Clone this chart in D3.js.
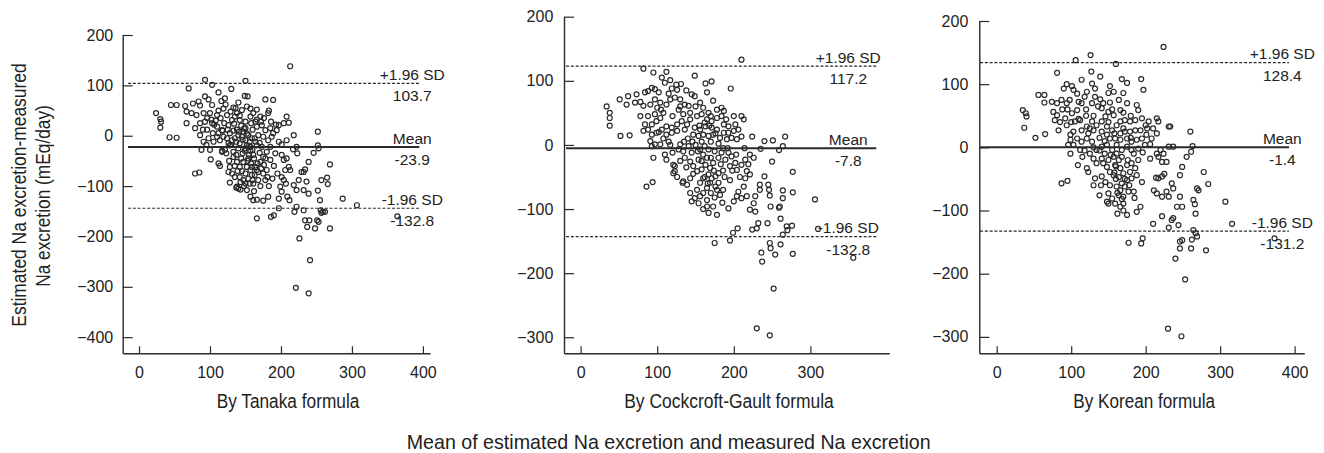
<!DOCTYPE html>
<html>
<head>
<meta charset="utf-8">
<script src="https://cdn.jsdelivr.net/npm/d3@7"></script>
<style>
  html, body { margin: 0; padding: 0; background: #fff; }
  svg { display: block; }
  text { font-family: "Liberation Sans", Arial, Helvetica, sans-serif; fill: #222; }
</style>
</head>
<body>
<svg id="chart" width="1324" height="453"></svg>
<script>
// ---------------- DATA ----------------
const panelTitles = ["By Tanaka formula", "By Cockcroft-Gault formula", "By Korean formula"];
const yAxisTitle = ["Estimated Na excretion-measured", "Na excretion (mEq/day)"];
const xAxisTitle = "Mean of estimated Na excretion and measured Na excretion";

const yTicksTanaka = [200, 100, 0, -100, -200, -300, -400];
const yTicksOther = [200, 100, 0, -100, -200, -300];
const xTicksTanaka = [0, 100, 200, 300, 400];
const xTicksCG = [0, 100, 200, 300];
const xTicksKorean = [0, 100, 200, 300, 400];

// drawn positions of limit lines [+1.96SD, mean, -1.96SD]
const limitsTanaka = [104, -22.5, -144];
const limitsCG = [123, -5, -143];
const limitsKorean = [134, 0, -132.6];
// label texts [upper name, upper value, mean name, mean value, lower name, lower value]
const labelsTanaka = ["+1.96 SD", "103.7", "Mean", "-23.9", "-1.96 SD", "-132.8"];
const labelsCG = ["+1.96 SD", "117.2", "Mean", "-7.8", "-1.96 SD", "-132.8"];
const labelsKorean = ["+1.96 SD", "128.4", "Mean", "-1.4", "-1.96 SD", "-131.2"];

const pointsTanaka = [
[93,111],[103,101],[150,109],[70,94],[130,93],[112,86],[149,79],[153,78],[178,72],[189,71],[93,78],[98,72],[121,74],[116,69],[140,66],[76,64],[65,59],[45,61],[53,61],[84,68],[86,60],[103,61],[119,54],[133,56],[152,58],[157,54],[166,52],[24,45],[30,33],[31,28],[30,16],[43,-3],[53,-4],[67,48],[74,45],[81,41],[91,45],[100,45],[110,41],[124,41],[138,45],[145,51],[161,45],[171,38],[182,45],[183,50],[208,38],[211,26],[204,25],[194,11],[197,21],[67,25],[79,15],[86,25],[93,28],[103,25],[110,18],[117,11],[126,21],[131,31],[135,38],[142,31],[150,28],[157,38],[164,28],[166,18],[173,21],[178,11],[185,15],[189,5],[86,1],[91,-12],[88,-28],[100,-28],[101,-47],[112,-55],[114,-60],[79,-75],[85,-73],[126,-72],[128,-93],[137,-103],[140,-105],[143,-107],[152,-108],[157,-121],[161,-128],[166,-127],[175,-129],[182,-121],[181,-82],[180,-68],[117,-30],[121,-28],[128,-19],[133,-32],[140,-25],[150,-25],[157,-22],[166,-19],[173,-22],[175,-42],[171,-52],[164,-62],[157,-68],[150,-75],[142,-62],[138,-52],[133,-42],[147,-52],[154,-45],[161,-38],[166,-68],[168,-88],[161,-95],[154,-85],[147,-88],[142,-82],[135,-82],[131,-75],[128,-62],[145,-2],[150,-9],[152,-19],[154,1],[147,8],[140,1],[135,-5],[131,-9],[124,-5],[119,-2],[114,-9],[110,-2],[105,-12],[98,-5],[117,-32],[128,5],[159,-5],[164,-12],[168,1],[175,-2],[182,-9],[187,-2],[185,-22],[180,-32],[197,-12],[201,-17],[208,-9],[218,1],[217,-27],[222,-22],[223,-35],[201,-38],[204,-48],[208,-45],[211,-62],[213,-68],[206,-68],[201,-82],[204,-88],[207,-95],[199,-101],[201,-111],[197,-125],[209,-121],[212,-128],[218,-98],[225,-88],[222,-108],[197,-144],[222,-141],[219,-151],[186,-161],[166,-164],[175,-75],[159,-78],[138,-101],
[144,20],[148,14],[152,4],[156,-12],[160,-28],[162,-45],[158,-55],[152,-62],[146,-35],[142,-15],[138,12],[134,24],[155,-38],[163,-5],[170,-14],[170,-34],[176,-58],[168,-72],[160,-88],[150,-95],[145,-70],[137,-38],[130,-18],[125,12],[120,25],[115,35],[108,30],[96,35],[90,12],[95,-18],[106,22],[160,12],[172,28],[178,-45],[185,-48],[190,-60],[192,-35],[195,-75],[188,-85],[183,-100],
[141,8],[146,-8],[149,-30],[153,-50],[157,-30],[159,-62],[163,-78],[167,-55],[172,-65],[144,-45],[139,-70],[135,-60],[127,-50],[123,-35],[126,-15],[133,10],[137,-12],[143,-92],[148,-100],[156,-95],[162,-110],[171,-100],[178,-88],[155,-20],[150,15],[158,25],[166,32],[176,35],[186,28],[193,22],[118,10],[112,5],[104,5],[96,12],[102,32],[112,50],[122,62],[129,48],[136,55],[142,40],
[213,138],[229,-72],[232,-72],[234,-67],[239,-52],[236,-91],[232,-108],[239,-115],[232,-148],[234,-168],[237,-181],[240,-168],[226,-204],[241,-247],[221,-302],[239,-313],[246,-34],[252,8],[252,-19],[253,-25],[252,-109],[255,-128],[256,-148],[257,-153],[259,-151],[251,-168],[253,-171],[248,-184],[262,-151],[257,-88],[265,-83],[266,-96],[269,-57],[269,-184],[287,-125],[307,-138],[364,-160],[190,-158]
];

const pointsCG = [
[210,133],[82,119],[95,113],[112,114],[106,105],[117,101],[110,97],[125,94],[131,95],[149,108],[163,96],[171,99],[165,82],[196,88],[126,86],[119,88],[93,89],[88,84],[97,87],[102,82],[84,82],[73,79],[62,76],[51,71],[60,63],[71,66],[78,67],[82,61],[91,63],[97,71],[104,66],[112,63],[117,71],[123,74],[130,71],[145,79],[149,76],[156,66],[160,58],[173,69],[184,58],[187,53],[167,50],[143,50],[134,48],[141,61],[136,63],[34,60],[38,50],[38,42],[38,30],[52,14],[64,15],[78,45],[84,32],[82,22],[93,32],[97,48],[104,42],[99,37],[88,24],[93,16],[99,19],[106,24],[112,29],[119,27],[112,16],[119,19],[126,22],[126,32],[132,37],[139,32],[136,24],[143,40],[152,45],[158,48],[165,40],[171,37],[178,42],[184,45],[187,32],[193,29],[202,32],[210,45],[213,40],[206,24],[200,22],[193,19],[187,19],[178,24],[171,27],[163,29],[156,24],[149,27],[147,16],[154,14],[160,16],[167,14],[173,16],[182,11],[191,9],[197,11],[204,9],[210,13],[224,13],[91,6],[97,1],[104,1],[93,-2],[95,-20],[110,-15],[112,-23],[121,-31],[123,-41],[128,-7],[134,-10],[130,1],[141,-2],[145,-12],[136,-20],[143,-26],[147,-33],[152,-41],[154,-23],[160,-15],[156,-7],[167,-7],[165,-20],[163,-31],[169,-36],[167,-46],[171,-52],[176,-49],[180,-44],[173,-28],[180,-20],[184,-12],[189,-23],[193,-12],[197,-18],[202,-28],[195,-33],[204,-39],[210,-31],[215,-23],[221,-15],[226,-20],[217,-41],[221,-46],[215,-52],[213,-65],[206,-73],[204,-80],[210,-83],[217,-80],[228,-80],[226,-91],[221,-101],[228,-104],[200,-88],[193,-99],[186,-70],[180,-59],[176,-65],[169,-59],[165,-67],[160,-75],[156,-80],[149,-83],[145,-88],[154,-91],[165,-86],[173,-96],[167,-106],[178,-109],[165,-96],[143,-75],[139,-62],[134,-57],[143,-52],[123,-33],[121,-44],[133,-59],[86,-65],[94,-58],[156,-59],[160,-52],[152,-70],
[150,0],[158,5],[162,-2],[170,5],[175,-10],[180,2],[186,-5],[140,10],[135,5],[147,-45],[158,-38],[170,-75],[175,-82],[182,-78],[150,60],[128,55],[120,45],[108,50],[100,58],[88,45],[120,-12],[115,5],[168,30],[176,18],[190,40],[200,45],[186,-40],[160,-100],[185,-90],[195,-55],
[153,-10],[158,-25],[162,-50],[166,-60],[170,-20],[174,-40],[178,-70],[183,-30],[188,-50],[192,-5],[198,-40],[203,-15],[208,-50],[214,-5],[219,-30],[162,35],[170,45],[178,55],[155,30],[146,5],[138,-35],[130,-25],[126,-50],[117,0],[108,10],[102,20],[130,60],[138,85],[115,80],[105,55],
[235,-6],[240,6],[251,7],[267,13],[264,-2],[259,-8],[250,-26],[277,-42],[240,-49],[245,-62],[246,-70],[234,-70],[234,-62],[247,-79],[264,-71],[277,-74],[264,-83],[260,-96],[248,-96],[259,-98],[306,-85],[261,-115],[276,-126],[269,-127],[264,-140],[270,-133],[310,-131],[244,-122],[230,-130],[232,-122],[224,-132],[205,-130],[199,-137],[195,-149],[175,-153],[247,-153],[248,-161],[261,-155],[254,-171],[236,-168],[237,-182],[277,-170],[356,-176],[252,-224],[230,-286],[247,-297]
];

const pointsKorean = [
[126,146],[106,138],[160,132],[81,118],[127,120],[139,112],[168,108],[175,102],[194,108],[197,91],[128,101],[114,107],[94,100],[101,97],[90,93],[103,91],[121,88],[132,93],[152,97],[157,88],[150,86],[170,86],[56,83],[64,83],[64,71],[74,72],[81,70],[87,75],[94,70],[110,72],[114,70],[132,80],[139,76],[143,70],[152,71],[164,75],[175,70],[141,62],[150,56],[146,49],[157,51],[166,59],[188,67],[190,59],[35,59],[39,54],[40,49],[37,31],[52,15],[65,21],[76,56],[81,51],[78,43],[92,46],[101,54],[108,59],[105,41],[112,43],[94,35],[83,27],[99,20],[99,12],[96,4],[103,25],[114,27],[121,33],[128,41],[123,22],[130,27],[134,35],[141,41],[148,33],[141,25],[148,20],[155,27],[161,35],[166,41],[172,43],[179,41],[186,43],[195,46],[204,41],[215,46],[217,41],[231,33],[215,22],[208,14],[202,30],[193,27],[186,27],[179,25],[172,25],[166,22],[159,14],[152,14],[161,4],[166,12],[175,14],[181,9],[188,12],[195,14],[199,4],[190,-2],[181,-4],[175,1],[168,-4],[161,-10],[155,-4],[148,4],[141,1],[134,-4],[128,9],[121,14],[114,9],[108,14],[103,4],[99,-10],[112,-4],[109,-28],[121,-33],[123,-39],[130,-18],[134,-25],[141,-18],[143,-25],[148,-31],[150,-20],[157,-15],[164,-20],[159,-28],[166,-33],[152,-39],[157,-44],[164,-47],[170,-41],[175,-28],[181,-25],[186,-33],[179,-39],[188,-44],[181,-49],[175,-52],[168,-57],[161,-62],[166,-68],[172,-62],[177,-70],[170,-78],[164,-76],[152,-60],[146,-55],[141,-46],[132,-49],[130,-60],[138,-76],[150,-73],[155,-81],[148,-86],[159,-89],[166,-94],[170,-89],[162,-105],[175,-107],[188,-102],[193,-94],[195,-55],[206,-18],[215,-10],[220,-4],[224,-10],[231,1],[237,1],[228,-23],[222,-23],[217,-15],[214,-48],[217,-49],[222,-46],[225,-42],[211,-68],[215,-73],[222,-78],[228,-70],[231,-78],[235,-57],[237,-65],[242,-94],[249,-94],[246,-78],[249,-31],[246,-44],[255,-15],[260,25],[233,33],[87,-57],[95,-53],[150,-89],
[150,40],[158,22],[145,10],[138,15],[130,0],[125,-10],[170,30],[180,15],[160,-50],[168,-15],[176,-20],[184,-10],[155,60],[120,60],[128,70],[110,45],[100,40],[115,-15],[140,-60],[170,-100],[185,-80],[200,35],[210,30],[120,50],[95,60],
[153,-12],[158,-40],[162,-72],[168,-82],[172,-50],[178,-60],[184,-70],[190,-20],[196,-8],[201,20],[206,5],[145,-10],[138,-5],[130,50],[136,65],[118,80],[108,85],[98,75],[88,60],[85,40],[118,-5],[125,30],[170,55],[180,50],[160,-30],
[224,159],[263,2],[261,-7],[278,-39],[284,-58],[269,-65],[271,-68],[264,-83],[266,-90],[267,-105],[307,-86],[316,-121],[264,-131],[267,-136],[269,-141],[262,-146],[261,-160],[281,-163],[249,-147],[246,-149],[246,-160],[240,-176],[231,-127],[244,-123],[235,-115],[237,-112],[222,-109],[253,-209],[230,-287],[248,-299],[373,-144],[177,-151],[194,-152],[196,-144],[210,-121]
];

// ---------------- LAYOUT ----------------
const panels = [
  { points: pointsTanaka, limits: limitsTanaka, labels: labelsTanaka, title: panelTitles[0],
    xDomain: [-23, 410], xRange: [122.7, 430], yDomain: [-432, 200], yRange: [353.3, 35],
    yTicks: yTicksTanaka, xTicks: xTicksTanaka, lineX: [-15.5, 395], labelX: 385,
    titleX: 288, titleW: 142.7, yPad: 9.5 },
  { points: pointsCG, limits: limitsCG, labels: labelsCG, title: panelTitles[1],
    xDomain: [-21.7, 403], xRange: [564, 889.3], yDomain: [-325, 200], yRange: [353.3, 16.7],
    yTicks: yTicksOther, xTicks: xTicksCG, lineX: [-19, 386], labelX: 349.4,
    titleX: 729, titleW: 209.7, yPad: 10.7 },
  { points: pointsKorean, limits: limitsKorean, labels: labelsKorean, title: panelTitles[2],
    xDomain: [-23.4, 413], xRange: [979.3, 1304.3], yDomain: [-326, 200], yRange: [353.3, 21],
    yTicks: yTicksOther, xTicks: xTicksKorean, lineX: [-22.4, 392.5], labelX: 383.5,
    titleX: 1144.2, titleW: 141.7, yPad: 11 }
];

const svg = d3.select("#chart");
const ink = "#2a2a2a";

panels.forEach(p => {
  const x = d3.scaleLinear().domain(p.xDomain).range(p.xRange);
  const y = d3.scaleLinear().domain(p.yDomain).range(p.yRange);
  const g = svg.append("g");

  // reference lines
  const styles = [
    { w: 1.2, dash: "3,1.8" },
    { w: 2, dash: null },
    { w: 1.2, dash: "3,1.8" }
  ];
  p.limits.forEach((v, i) => {
    g.append("line")
      .attr("x1", x(p.lineX[0])).attr("x2", x(p.lineX[1]))
      .attr("y1", y(v)).attr("y2", y(v))
      .attr("stroke", ink).attr("stroke-width", styles[i].w)
      .attr("stroke-dasharray", styles[i].dash);
    g.append("text")
      .attr("x", x(p.labelX)).attr("y", y(v) - 3.5)
      .attr("text-anchor", "middle").style("font-size", "15.5px")
      .text(p.labels[i * 2]);
    g.append("text")
      .attr("x", x(p.labelX)).attr("y", y(v) + 18)
      .attr("text-anchor", "middle").style("font-size", "15.5px")
      .text(p.labels[i * 2 + 1]);
  });

  // points
  g.append("g").selectAll("circle").data(p.points).join("circle")
    .attr("cx", d => x(d[0])).attr("cy", d => y(d[1]))
    .attr("r", 2.5).attr("fill", "none")
    .attr("stroke", ink).attr("stroke-width", 1.2);

  // axes
  const yAxis = d3.axisLeft(y).tickValues(p.yTicks).tickSizeInner(-10).tickSizeOuter(0)
    .tickPadding(p.yPad).tickFormat(d3.format("d"));
  const gy = g.append("g").attr("transform", `translate(${p.xRange[0]},0)`).call(yAxis);
  const xAxis = d3.axisBottom(x).tickValues(p.xTicks).tickSizeInner(-7).tickSizeOuter(0)
    .tickPadding(13.5).tickFormat(d3.format("d"));
  const gx = g.append("g").attr("transform", `translate(0,${p.yRange[0]})`).call(xAxis);
  [gx, gy].forEach(a => {
    a.select(".domain").attr("stroke", ink).attr("stroke-width", 1.4);
    a.selectAll(".tick line").attr("stroke", ink).attr("stroke-width", 1.2);
    a.selectAll(".tick text").attr("fill", "#222").style("font-size", "16px")
      .style("font-family", "'Liberation Sans', Arial, sans-serif");
  });

  // panel x title
  g.append("text")
    .attr("x", p.titleX).attr("y", 408.3)
    .attr("text-anchor", "middle").style("font-size", "20px")
    .attr("textLength", p.titleW).attr("lengthAdjust", "spacingAndGlyphs")
    .text(p.title);
});

// shared axis titles
svg.append("text")
  .attr("transform", "translate(26,195) rotate(-90)")
  .attr("text-anchor", "middle").style("font-size", "20px")
  .attr("textLength", 263.4).attr("lengthAdjust", "spacingAndGlyphs")
  .text(yAxisTitle[0]);
svg.append("text")
  .attr("transform", "translate(49.5,196) rotate(-90)")
  .attr("text-anchor", "middle").style("font-size", "20px")
  .attr("textLength", 181.7).attr("lengthAdjust", "spacingAndGlyphs")
  .text(yAxisTitle[1]);
svg.append("text")
  .attr("x", 668.7).attr("y", 449)
  .attr("text-anchor", "middle").style("font-size", "21px")
  .attr("textLength", 524).attr("lengthAdjust", "spacingAndGlyphs")
  .text(xAxisTitle);
</script>
</body>
</html>
